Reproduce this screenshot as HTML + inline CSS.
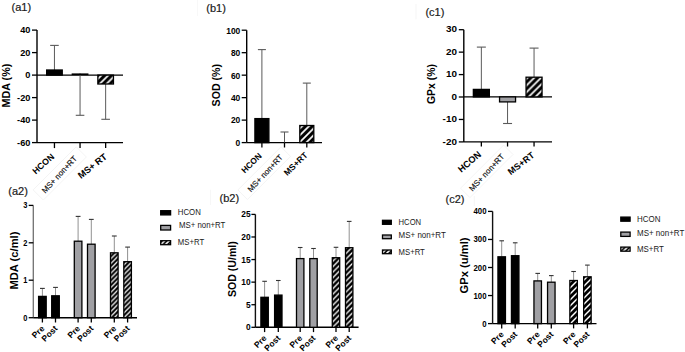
<!DOCTYPE html>
<html><head><meta charset="utf-8"><style>
html,body{margin:0;padding:0;background:#fff;}
body{width:685px;height:352px;overflow:hidden;}
svg{display:block;font-family:"Liberation Sans", sans-serif;}
</style></head><body>
<svg width="685" height="352" viewBox="0 0 685 352">
<defs>
<pattern id="hatch" patternUnits="userSpaceOnUse" x="0" y="0" width="6.8" height="6.8"><rect width="6.8" height="6.8" fill="#000"/><path d="M0,6.8 L6.8,0 M-3.4,3.4 L3.4,-3.4 M3.4,10.2 L10.2,3.4" stroke="#fff" stroke-width="1.7"/></pattern>
<pattern id="hatchBa" patternUnits="userSpaceOnUse" x="0" y="0" width="4.8" height="4.8"><rect width="4.8" height="4.8" fill="#000"/><path d="M0,4.8 L4.8,0 M-2.4,2.4 L2.4,-2.4 M2.4,7.199999999999999 L7.199999999999999,2.4" stroke="#fff" stroke-width="1.25"/></pattern>
<pattern id="hatchBb" patternUnits="userSpaceOnUse" x="0" y="0" width="5.5" height="5.5"><rect width="5.5" height="5.5" fill="#000"/><path d="M0,5.5 L5.5,0 M-2.75,2.75 L2.75,-2.75 M2.75,8.25 L8.25,2.75" stroke="#fff" stroke-width="1.35"/></pattern>
<pattern id="hatchBc" patternUnits="userSpaceOnUse" x="0" y="0" width="6.0" height="6.0"><rect width="6.0" height="6.0" fill="#000"/><path d="M0,6.0 L6.0,0 M-3.0,3.0 L3.0,-3.0 M3.0,9.0 L9.0,3.0" stroke="#fff" stroke-width="1.45"/></pattern>
<pattern id="hatchL" patternUnits="userSpaceOnUse" x="0.6" y="0" width="4.6" height="4.6"><rect width="4.6" height="4.6" fill="#000"/><path d="M0,4.6 L4.6,0 M-2.3,2.3 L2.3,-2.3 M2.3,6.8999999999999995 L6.8999999999999995,2.3" stroke="#fff" stroke-width="1.5"/></pattern>

</defs>
<rect width="685" height="352" fill="#fff"/>
<line x1="37.00" y1="30.10" x2="37.00" y2="142.60" stroke="#000" stroke-width="1.4"/>
<line x1="32.00" y1="30.10" x2="37.00" y2="30.10" stroke="#000" stroke-width="1.3"/>
<text x="30.40" y="33.26" font-size="9.9" font-weight="bold" text-anchor="end" transform="matrix(0.93 0 0 1 2.128 0)">40</text>
<line x1="32.00" y1="52.60" x2="37.00" y2="52.60" stroke="#000" stroke-width="1.3"/>
<text x="30.40" y="55.76" font-size="9.9" font-weight="bold" text-anchor="end" transform="matrix(0.93 0 0 1 2.128 0)">20</text>
<line x1="32.00" y1="75.10" x2="37.00" y2="75.10" stroke="#000" stroke-width="1.3"/>
<text x="30.40" y="78.26" font-size="9.9" font-weight="bold" text-anchor="end" transform="matrix(0.93 0 0 1 2.128 0)">0</text>
<line x1="32.00" y1="97.60" x2="37.00" y2="97.60" stroke="#000" stroke-width="1.3"/>
<text x="30.40" y="100.76" font-size="9.9" font-weight="bold" text-anchor="end" transform="matrix(0.93 0 0 1 2.128 0)">-20</text>
<line x1="32.00" y1="120.10" x2="37.00" y2="120.10" stroke="#000" stroke-width="1.3"/>
<text x="30.40" y="123.26" font-size="9.9" font-weight="bold" text-anchor="end" transform="matrix(0.93 0 0 1 2.128 0)">-40</text>
<line x1="32.00" y1="142.60" x2="37.00" y2="142.60" stroke="#000" stroke-width="1.3"/>
<text x="30.40" y="145.76" font-size="9.9" font-weight="bold" text-anchor="end" transform="matrix(0.93 0 0 1 2.128 0)">-60</text>
<line x1="37.00" y1="142.60" x2="123.00" y2="142.60" stroke="#000" stroke-width="1.4"/>
<line x1="37.00" y1="75.10" x2="123.00" y2="75.10" stroke="#000" stroke-width="1.3"/>
<line x1="54.45" y1="70.00" x2="54.45" y2="45.40" stroke="#5a5a5a" stroke-width="1.0"/>
<line x1="50.15" y1="45.40" x2="58.75" y2="45.40" stroke="#5a5a5a" stroke-width="1.1"/>
<rect x="46.65" y="70.00" width="15.60" height="5.10" fill="#000" stroke="#000" stroke-width="1.3"/>
<line x1="80.05" y1="73.40" x2="80.05" y2="115.30" stroke="#5a5a5a" stroke-width="1.0"/>
<line x1="75.75" y1="115.30" x2="84.35" y2="115.30" stroke="#5a5a5a" stroke-width="1.1"/>
<rect x="71.65" y="73.40" width="16.80" height="1.70" fill="#000"/>
<line x1="105.65" y1="84.00" x2="105.65" y2="119.30" stroke="#5a5a5a" stroke-width="1.0"/>
<line x1="101.35" y1="119.30" x2="109.95" y2="119.30" stroke="#5a5a5a" stroke-width="1.1"/>
<rect x="97.85" y="75.10" width="15.60" height="8.90" fill="url(#hatch)" stroke="#000" stroke-width="1.3"/>
<line x1="54.45" y1="142.60" x2="54.45" y2="148.10" stroke="#000" stroke-width="1.3"/>
<line x1="80.05" y1="142.60" x2="80.05" y2="148.10" stroke="#000" stroke-width="1.3"/>
<line x1="105.65" y1="142.60" x2="105.65" y2="148.10" stroke="#000" stroke-width="1.3"/>
<line x1="246.70" y1="30.20" x2="246.70" y2="142.60" stroke="#000" stroke-width="1.4"/>
<line x1="241.70" y1="30.20" x2="246.70" y2="30.20" stroke="#000" stroke-width="1.3"/>
<text x="240.30" y="33.56" font-size="9.6" font-weight="bold" text-anchor="end" transform="matrix(0.88 0 0 1 28.836 0)">100</text>
<line x1="241.70" y1="52.68" x2="246.70" y2="52.68" stroke="#000" stroke-width="1.3"/>
<text x="240.30" y="56.04" font-size="9.6" font-weight="bold" text-anchor="end" transform="matrix(0.88 0 0 1 28.836 0)">80</text>
<line x1="241.70" y1="75.16" x2="246.70" y2="75.16" stroke="#000" stroke-width="1.3"/>
<text x="240.30" y="78.52" font-size="9.6" font-weight="bold" text-anchor="end" transform="matrix(0.88 0 0 1 28.836 0)">60</text>
<line x1="241.70" y1="97.64" x2="246.70" y2="97.64" stroke="#000" stroke-width="1.3"/>
<text x="240.30" y="101.00" font-size="9.6" font-weight="bold" text-anchor="end" transform="matrix(0.88 0 0 1 28.836 0)">40</text>
<line x1="241.70" y1="120.12" x2="246.70" y2="120.12" stroke="#000" stroke-width="1.3"/>
<text x="240.30" y="123.48" font-size="9.6" font-weight="bold" text-anchor="end" transform="matrix(0.88 0 0 1 28.836 0)">20</text>
<line x1="241.70" y1="142.60" x2="246.70" y2="142.60" stroke="#000" stroke-width="1.3"/>
<text x="240.30" y="145.96" font-size="9.6" font-weight="bold" text-anchor="end" transform="matrix(0.88 0 0 1 28.836 0)">0</text>
<line x1="246.70" y1="142.60" x2="322.00" y2="142.60" stroke="#000" stroke-width="1.4"/>
<line x1="261.90" y1="118.60" x2="261.90" y2="49.60" stroke="#5a5a5a" stroke-width="1.0"/>
<line x1="257.90" y1="49.60" x2="265.90" y2="49.60" stroke="#5a5a5a" stroke-width="1.1"/>
<rect x="254.90" y="118.60" width="14.00" height="24.00" fill="#000" stroke="#000" stroke-width="1.3"/>
<line x1="284.50" y1="142.60" x2="284.50" y2="132.00" stroke="#5a5a5a" stroke-width="1.0"/>
<line x1="280.50" y1="132.00" x2="288.50" y2="132.00" stroke="#5a5a5a" stroke-width="1.1"/>
<line x1="306.80" y1="125.50" x2="306.80" y2="83.10" stroke="#5a5a5a" stroke-width="1.0"/>
<line x1="302.80" y1="83.10" x2="310.80" y2="83.10" stroke="#5a5a5a" stroke-width="1.1"/>
<rect x="299.80" y="125.50" width="14.00" height="17.10" fill="url(#hatch)" stroke="#000" stroke-width="1.3"/>
<line x1="261.90" y1="142.60" x2="261.90" y2="147.50" stroke="#000" stroke-width="1.3"/>
<line x1="284.50" y1="142.60" x2="284.50" y2="147.50" stroke="#000" stroke-width="1.3"/>
<line x1="306.80" y1="142.60" x2="306.80" y2="147.50" stroke="#000" stroke-width="1.3"/>
<line x1="463.80" y1="29.70" x2="463.80" y2="141.90" stroke="#000" stroke-width="1.4"/>
<line x1="458.80" y1="29.70" x2="463.80" y2="29.70" stroke="#000" stroke-width="1.3"/>
<text x="456.90" y="32.36" font-size="9.9" font-weight="bold" text-anchor="end" transform="matrix(1.0 0 0 1 0.000 0)">30</text>
<line x1="458.80" y1="52.14" x2="463.80" y2="52.14" stroke="#000" stroke-width="1.3"/>
<text x="456.90" y="54.80" font-size="9.9" font-weight="bold" text-anchor="end" transform="matrix(1.0 0 0 1 0.000 0)">20</text>
<line x1="458.80" y1="74.58" x2="463.80" y2="74.58" stroke="#000" stroke-width="1.3"/>
<text x="456.90" y="77.24" font-size="9.9" font-weight="bold" text-anchor="end" transform="matrix(1.0 0 0 1 0.000 0)">10</text>
<line x1="458.80" y1="97.00" x2="463.80" y2="97.00" stroke="#000" stroke-width="1.3"/>
<text x="456.90" y="99.66" font-size="9.9" font-weight="bold" text-anchor="end" transform="matrix(1.0 0 0 1 0.000 0)">0</text>
<line x1="458.80" y1="119.46" x2="463.80" y2="119.46" stroke="#000" stroke-width="1.3"/>
<text x="456.90" y="122.12" font-size="9.9" font-weight="bold" text-anchor="end" transform="matrix(1.0 0 0 1 0.000 0)">-10</text>
<line x1="458.80" y1="141.90" x2="463.80" y2="141.90" stroke="#000" stroke-width="1.3"/>
<text x="456.90" y="144.56" font-size="9.9" font-weight="bold" text-anchor="end" transform="matrix(1.0 0 0 1 0.000 0)">-20</text>
<line x1="463.80" y1="141.90" x2="552.00" y2="141.90" stroke="#000" stroke-width="1.4"/>
<line x1="463.80" y1="96.90" x2="552.00" y2="96.90" stroke="#000" stroke-width="1.3"/>
<line x1="481.35" y1="89.40" x2="481.35" y2="47.10" stroke="#5a5a5a" stroke-width="1.0"/>
<line x1="476.85" y1="47.10" x2="485.85" y2="47.10" stroke="#5a5a5a" stroke-width="1.1"/>
<rect x="473.35" y="89.40" width="16.00" height="7.50" fill="#000" stroke="#000" stroke-width="1.3"/>
<line x1="507.55" y1="101.90" x2="507.55" y2="123.50" stroke="#5a5a5a" stroke-width="1.0"/>
<line x1="503.05" y1="123.50" x2="512.05" y2="123.50" stroke="#5a5a5a" stroke-width="1.1"/>
<rect x="499.55" y="96.90" width="16.00" height="5.00" fill="#a0a0a4" stroke="#000" stroke-width="1.3"/>
<line x1="534.05" y1="77.20" x2="534.05" y2="48.10" stroke="#5a5a5a" stroke-width="1.0"/>
<line x1="529.55" y1="48.10" x2="538.55" y2="48.10" stroke="#5a5a5a" stroke-width="1.1"/>
<rect x="526.05" y="77.20" width="16.00" height="19.70" fill="url(#hatch)" stroke="#000" stroke-width="1.3"/>
<line x1="481.35" y1="141.90" x2="481.35" y2="146.50" stroke="#000" stroke-width="1.3"/>
<line x1="507.55" y1="141.90" x2="507.55" y2="146.50" stroke="#000" stroke-width="1.3"/>
<line x1="534.05" y1="141.90" x2="534.05" y2="146.50" stroke="#000" stroke-width="1.3"/>
<polygon points="76.2,146.8 86.4,157.0 43.3,200.1 33.1,189.9" fill="none" stroke="#f1f1f1" stroke-width="0.8"/>
<polygon points="281.0,146.8 290.5,156.4 247.4,199.5 237.9,189.9" fill="none" stroke="#f1f1f1" stroke-width="0.8"/>
<polygon points="503.6,145.1 513.0,154.5 469.9,197.6 460.5,188.2" fill="none" stroke="#f1f1f1" stroke-width="0.8"/>
<line x1="416.00" y1="4.00" x2="416.00" y2="19.30" stroke="#f3f3f3" stroke-width="0.8"/>
<line x1="197.50" y1="0.00" x2="197.50" y2="16.00" stroke="#f6f6f6" stroke-width="0.8"/>
<line x1="474.30" y1="196.00" x2="474.30" y2="206.00" stroke="#f3f3f3" stroke-width="0.8"/>
<line x1="210.50" y1="189.80" x2="210.50" y2="205.00" stroke="#f5f5f5" stroke-width="0.8"/>
<text x="54.90" y="157.50" font-size="8.8" font-weight="bold" text-anchor="end" fill="#000" transform="rotate(-42 54.90 157.50)">HCON</text>
<text x="107.70" y="158.00" font-size="9.2" font-weight="bold" text-anchor="end" fill="#000" transform="rotate(-38 107.70 158.00)">MS+ RT</text>
<text x="77.50" y="159.00" font-size="8.0" font-weight="normal" text-anchor="end" fill="#111" transform="rotate(-47 77.50 159.00)" stroke="#111" stroke-width="0.15">MS+ non+RT</text>
<text x="262.40" y="156.50" font-size="8.4" font-weight="bold" text-anchor="end" fill="#000" transform="rotate(-44 262.40 156.50)">HCON</text>
<text x="308.30" y="155.80" font-size="8.6" font-weight="bold" text-anchor="end" fill="#000" transform="rotate(-44 308.30 155.80)">MS+RT</text>
<text x="283.40" y="157.70" font-size="8.0" font-weight="normal" text-anchor="end" fill="#111" transform="rotate(-47 283.40 157.70)" stroke="#111" stroke-width="0.15">MS+ non+RT</text>
<text x="481.90" y="155.50" font-size="9.2" font-weight="bold" text-anchor="end" fill="#000" transform="rotate(-40 481.90 155.50)">HCON</text>
<text x="535.10" y="156.30" font-size="9.0" font-weight="bold" text-anchor="end" fill="#000" transform="rotate(-38 535.10 156.30)">MS+RT</text>
<text x="504.80" y="157.00" font-size="8.0" font-weight="normal" text-anchor="end" fill="#111" transform="rotate(-47 504.80 157.00)" stroke="#111" stroke-width="0.15">MS+ non+RT</text>
<text x="9.90" y="85.60" font-size="10.8" font-weight="bold" text-anchor="middle" fill="#000" transform="rotate(-90 9.90 85.60)">MDA (%)</text>
<text x="219.80" y="85.20" font-size="10.6" font-weight="bold" text-anchor="middle" fill="#000" transform="rotate(-90 219.80 85.20)">SOD (%)</text>
<text x="435.20" y="84.05" font-size="10.4" font-weight="bold" text-anchor="middle" fill="#000" transform="rotate(-90 435.20 84.05)">GPx (%)</text>
<text x="11.50" y="11.40" font-size="11" font-weight="normal" text-anchor="start" fill="#1a1a1a" stroke="#1a1a1a" stroke-width="0.2">(a1)</text>
<text x="206.30" y="12.20" font-size="11" font-weight="normal" text-anchor="start" fill="#1a1a1a" stroke="#1a1a1a" stroke-width="0.2">(b1)</text>
<text x="425.40" y="15.60" font-size="11" font-weight="normal" text-anchor="start" fill="#1a1a1a" stroke="#1a1a1a" stroke-width="0.2">(c1)</text>
<text x="8.30" y="194.60" font-size="11" font-weight="normal" text-anchor="start" fill="#1a1a1a" stroke="#1a1a1a" stroke-width="0.2">(a2)</text>
<text x="219.50" y="202.40" font-size="11" font-weight="normal" text-anchor="start" fill="#1a1a1a" stroke="#1a1a1a" stroke-width="0.2">(b2)</text>
<text x="445.50" y="203.40" font-size="11" font-weight="normal" text-anchor="start" fill="#1a1a1a" stroke="#1a1a1a" stroke-width="0.2">(c2)</text>
<line x1="33.30" y1="205.40" x2="33.30" y2="317.70" stroke="#707070" stroke-width="1.3"/>
<line x1="28.70" y1="205.40" x2="33.30" y2="205.40" stroke="#000" stroke-width="1.3"/>
<text x="27.50" y="208.45" font-size="9.3" font-weight="bold" text-anchor="end" transform="matrix(0.8 0 0 1 5.500 0)">3</text>
<line x1="28.70" y1="242.80" x2="33.30" y2="242.80" stroke="#000" stroke-width="1.3"/>
<text x="27.50" y="245.85" font-size="9.3" font-weight="bold" text-anchor="end" transform="matrix(0.8 0 0 1 5.500 0)">2</text>
<line x1="28.70" y1="280.20" x2="33.30" y2="280.20" stroke="#000" stroke-width="1.3"/>
<text x="27.50" y="283.25" font-size="9.3" font-weight="bold" text-anchor="end" transform="matrix(0.8 0 0 1 5.500 0)">1</text>
<line x1="28.70" y1="317.70" x2="33.30" y2="317.70" stroke="#000" stroke-width="1.3"/>
<text x="27.50" y="320.75" font-size="9.3" font-weight="bold" text-anchor="end" transform="matrix(0.8 0 0 1 5.500 0)">0</text>
<line x1="33.30" y1="317.70" x2="137.00" y2="317.70" stroke="#000" stroke-width="1.4"/>
<line x1="42.40" y1="296.40" x2="42.40" y2="288.40" stroke="#858585" stroke-width="0.9"/>
<line x1="40.00" y1="288.40" x2="44.80" y2="288.40" stroke="#333" stroke-width="1.1"/>
<rect x="38.60" y="296.40" width="7.60" height="21.30" fill="#000" stroke="#000" stroke-width="1.3"/>
<line x1="55.50" y1="295.80" x2="55.50" y2="287.40" stroke="#858585" stroke-width="0.9"/>
<line x1="53.10" y1="287.40" x2="57.90" y2="287.40" stroke="#333" stroke-width="1.1"/>
<rect x="51.70" y="295.80" width="7.60" height="21.90" fill="#000" stroke="#000" stroke-width="1.3"/>
<line x1="78.10" y1="241.20" x2="78.10" y2="216.40" stroke="#858585" stroke-width="0.9"/>
<line x1="75.70" y1="216.40" x2="80.50" y2="216.40" stroke="#333" stroke-width="1.1"/>
<rect x="74.30" y="241.20" width="7.60" height="76.50" fill="#a0a0a4" stroke="#000" stroke-width="1.3"/>
<line x1="91.30" y1="244.20" x2="91.30" y2="219.40" stroke="#858585" stroke-width="0.9"/>
<line x1="88.90" y1="219.40" x2="93.70" y2="219.40" stroke="#333" stroke-width="1.1"/>
<rect x="87.50" y="244.20" width="7.60" height="73.50" fill="#a0a0a4" stroke="#000" stroke-width="1.3"/>
<line x1="114.30" y1="252.80" x2="114.30" y2="236.00" stroke="#858585" stroke-width="0.9"/>
<line x1="111.90" y1="236.00" x2="116.70" y2="236.00" stroke="#333" stroke-width="1.1"/>
<rect x="110.50" y="252.80" width="7.60" height="64.90" fill="url(#hatchBa)" stroke="#000" stroke-width="1.3"/>
<line x1="127.60" y1="261.70" x2="127.60" y2="247.10" stroke="#858585" stroke-width="0.9"/>
<line x1="125.20" y1="247.10" x2="130.00" y2="247.10" stroke="#333" stroke-width="1.1"/>
<rect x="123.80" y="261.70" width="7.60" height="56.00" fill="url(#hatchBa)" stroke="#000" stroke-width="1.3"/>
<line x1="42.40" y1="317.70" x2="42.40" y2="322.50" stroke="#000" stroke-width="1.3"/>
<line x1="55.50" y1="317.70" x2="55.50" y2="322.50" stroke="#000" stroke-width="1.3"/>
<line x1="78.10" y1="317.70" x2="78.10" y2="322.50" stroke="#000" stroke-width="1.3"/>
<line x1="91.30" y1="317.70" x2="91.30" y2="322.50" stroke="#000" stroke-width="1.3"/>
<line x1="114.30" y1="317.70" x2="114.30" y2="322.50" stroke="#000" stroke-width="1.3"/>
<line x1="127.60" y1="317.70" x2="127.60" y2="322.50" stroke="#000" stroke-width="1.3"/>
<text x="45.00" y="329.10" font-size="8.5" font-weight="bold" text-anchor="end" fill="#000" transform="rotate(-45 45.00 329.10)">Pre</text>
<text x="58.10" y="329.10" font-size="8.5" font-weight="bold" text-anchor="end" fill="#000" transform="rotate(-45 58.10 329.10)">Post</text>
<text x="80.70" y="329.10" font-size="8.5" font-weight="bold" text-anchor="end" fill="#000" transform="rotate(-45 80.70 329.10)">Pre</text>
<text x="93.90" y="329.10" font-size="8.5" font-weight="bold" text-anchor="end" fill="#000" transform="rotate(-45 93.90 329.10)">Post</text>
<text x="116.90" y="329.10" font-size="8.5" font-weight="bold" text-anchor="end" fill="#000" transform="rotate(-45 116.90 329.10)">Pre</text>
<text x="130.20" y="329.10" font-size="8.5" font-weight="bold" text-anchor="end" fill="#000" transform="rotate(-45 130.20 329.10)">Post</text>
<line x1="255.40" y1="214.40" x2="255.40" y2="327.30" stroke="#111" stroke-width="1.4"/>
<line x1="251.40" y1="214.40" x2="255.40" y2="214.40" stroke="#000" stroke-width="1.3"/>
<text x="250.60" y="217.45" font-size="9.3" font-weight="bold" text-anchor="end" transform="matrix(0.9 0 0 1 25.060 0)">25</text>
<line x1="251.40" y1="236.98" x2="255.40" y2="236.98" stroke="#000" stroke-width="1.3"/>
<text x="250.60" y="240.03" font-size="9.3" font-weight="bold" text-anchor="end" transform="matrix(0.9 0 0 1 25.060 0)">20</text>
<line x1="251.40" y1="259.56" x2="255.40" y2="259.56" stroke="#000" stroke-width="1.3"/>
<text x="250.60" y="262.61" font-size="9.3" font-weight="bold" text-anchor="end" transform="matrix(0.9 0 0 1 25.060 0)">15</text>
<line x1="251.40" y1="282.14" x2="255.40" y2="282.14" stroke="#000" stroke-width="1.3"/>
<text x="250.60" y="285.19" font-size="9.3" font-weight="bold" text-anchor="end" transform="matrix(0.9 0 0 1 25.060 0)">10</text>
<line x1="251.40" y1="304.72" x2="255.40" y2="304.72" stroke="#000" stroke-width="1.3"/>
<text x="250.60" y="307.77" font-size="9.3" font-weight="bold" text-anchor="end" transform="matrix(0.9 0 0 1 25.060 0)">5</text>
<line x1="251.40" y1="327.30" x2="255.40" y2="327.30" stroke="#000" stroke-width="1.3"/>
<text x="250.60" y="330.35" font-size="9.3" font-weight="bold" text-anchor="end" transform="matrix(0.9 0 0 1 25.060 0)">0</text>
<line x1="255.40" y1="327.30" x2="358.60" y2="327.30" stroke="#000" stroke-width="1.4"/>
<line x1="264.60" y1="297.30" x2="264.60" y2="281.30" stroke="#858585" stroke-width="0.9"/>
<line x1="262.30" y1="281.30" x2="266.90" y2="281.30" stroke="#333" stroke-width="1.1"/>
<rect x="260.90" y="297.30" width="7.40" height="30.00" fill="#000" stroke="#000" stroke-width="1.3"/>
<line x1="278.30" y1="295.10" x2="278.30" y2="280.50" stroke="#858585" stroke-width="0.9"/>
<line x1="276.00" y1="280.50" x2="280.60" y2="280.50" stroke="#333" stroke-width="1.1"/>
<rect x="274.60" y="295.10" width="7.40" height="32.20" fill="#000" stroke="#000" stroke-width="1.3"/>
<line x1="300.20" y1="258.60" x2="300.20" y2="247.50" stroke="#858585" stroke-width="0.9"/>
<line x1="297.90" y1="247.50" x2="302.50" y2="247.50" stroke="#333" stroke-width="1.1"/>
<rect x="296.50" y="258.60" width="7.40" height="68.70" fill="#a0a0a4" stroke="#000" stroke-width="1.3"/>
<line x1="313.50" y1="258.60" x2="313.50" y2="248.50" stroke="#858585" stroke-width="0.9"/>
<line x1="311.20" y1="248.50" x2="315.80" y2="248.50" stroke="#333" stroke-width="1.1"/>
<rect x="309.80" y="258.60" width="7.40" height="68.70" fill="#a0a0a4" stroke="#000" stroke-width="1.3"/>
<line x1="336.00" y1="257.70" x2="336.00" y2="247.30" stroke="#858585" stroke-width="0.9"/>
<line x1="333.70" y1="247.30" x2="338.30" y2="247.30" stroke="#333" stroke-width="1.1"/>
<rect x="332.30" y="257.70" width="7.40" height="69.60" fill="url(#hatchBb)" stroke="#000" stroke-width="1.3"/>
<line x1="349.20" y1="247.70" x2="349.20" y2="221.40" stroke="#858585" stroke-width="0.9"/>
<line x1="346.90" y1="221.40" x2="351.50" y2="221.40" stroke="#333" stroke-width="1.1"/>
<rect x="345.50" y="247.70" width="7.40" height="79.60" fill="url(#hatchBb)" stroke="#000" stroke-width="1.3"/>
<line x1="264.60" y1="327.30" x2="264.60" y2="332.10" stroke="#000" stroke-width="1.3"/>
<line x1="278.30" y1="327.30" x2="278.30" y2="332.10" stroke="#000" stroke-width="1.3"/>
<line x1="300.20" y1="327.30" x2="300.20" y2="332.10" stroke="#000" stroke-width="1.3"/>
<line x1="313.50" y1="327.30" x2="313.50" y2="332.10" stroke="#000" stroke-width="1.3"/>
<line x1="336.00" y1="327.30" x2="336.00" y2="332.10" stroke="#000" stroke-width="1.3"/>
<line x1="349.20" y1="327.30" x2="349.20" y2="332.10" stroke="#000" stroke-width="1.3"/>
<text x="267.20" y="338.70" font-size="8.5" font-weight="bold" text-anchor="end" fill="#000" transform="rotate(-45 267.20 338.70)">Pre</text>
<text x="280.90" y="338.70" font-size="8.5" font-weight="bold" text-anchor="end" fill="#000" transform="rotate(-45 280.90 338.70)">Post</text>
<text x="302.80" y="338.70" font-size="8.5" font-weight="bold" text-anchor="end" fill="#000" transform="rotate(-45 302.80 338.70)">Pre</text>
<text x="316.10" y="338.70" font-size="8.5" font-weight="bold" text-anchor="end" fill="#000" transform="rotate(-45 316.10 338.70)">Post</text>
<text x="338.60" y="338.70" font-size="8.5" font-weight="bold" text-anchor="end" fill="#000" transform="rotate(-45 338.60 338.70)">Pre</text>
<text x="351.80" y="338.70" font-size="8.5" font-weight="bold" text-anchor="end" fill="#000" transform="rotate(-45 351.80 338.70)">Post</text>
<line x1="492.60" y1="211.40" x2="492.60" y2="323.60" stroke="#111" stroke-width="1.4"/>
<line x1="488.00" y1="211.40" x2="492.60" y2="211.40" stroke="#000" stroke-width="1.3"/>
<text x="486.50" y="214.45" font-size="9.3" font-weight="bold" text-anchor="end" transform="matrix(0.84 0 0 1 77.840 0)">400</text>
<line x1="488.00" y1="239.45" x2="492.60" y2="239.45" stroke="#000" stroke-width="1.3"/>
<text x="486.50" y="242.50" font-size="9.3" font-weight="bold" text-anchor="end" transform="matrix(0.84 0 0 1 77.840 0)">300</text>
<line x1="488.00" y1="267.50" x2="492.60" y2="267.50" stroke="#000" stroke-width="1.3"/>
<text x="486.50" y="270.55" font-size="9.3" font-weight="bold" text-anchor="end" transform="matrix(0.84 0 0 1 77.840 0)">200</text>
<line x1="488.00" y1="295.55" x2="492.60" y2="295.55" stroke="#000" stroke-width="1.3"/>
<text x="486.50" y="298.60" font-size="9.3" font-weight="bold" text-anchor="end" transform="matrix(0.84 0 0 1 77.840 0)">100</text>
<line x1="488.00" y1="323.60" x2="492.60" y2="323.60" stroke="#000" stroke-width="1.3"/>
<text x="486.50" y="326.65" font-size="9.3" font-weight="bold" text-anchor="end" transform="matrix(0.84 0 0 1 77.840 0)">0</text>
<line x1="492.60" y1="323.60" x2="596.50" y2="323.60" stroke="#000" stroke-width="1.4"/>
<line x1="501.70" y1="256.80" x2="501.70" y2="240.80" stroke="#858585" stroke-width="0.9"/>
<line x1="499.40" y1="240.80" x2="504.00" y2="240.80" stroke="#333" stroke-width="1.1"/>
<rect x="497.95" y="256.80" width="7.50" height="66.80" fill="#000" stroke="#000" stroke-width="1.3"/>
<line x1="515.20" y1="255.70" x2="515.20" y2="242.80" stroke="#858585" stroke-width="0.9"/>
<line x1="512.90" y1="242.80" x2="517.50" y2="242.80" stroke="#333" stroke-width="1.1"/>
<rect x="511.45" y="255.70" width="7.50" height="67.90" fill="#000" stroke="#000" stroke-width="1.3"/>
<line x1="537.70" y1="280.90" x2="537.70" y2="273.40" stroke="#858585" stroke-width="0.9"/>
<line x1="535.40" y1="273.40" x2="540.00" y2="273.40" stroke="#333" stroke-width="1.1"/>
<rect x="533.95" y="280.90" width="7.50" height="42.70" fill="#a0a0a4" stroke="#000" stroke-width="1.3"/>
<line x1="551.30" y1="282.20" x2="551.30" y2="275.60" stroke="#858585" stroke-width="0.9"/>
<line x1="549.00" y1="275.60" x2="553.60" y2="275.60" stroke="#333" stroke-width="1.1"/>
<rect x="547.55" y="282.20" width="7.50" height="41.40" fill="#a0a0a4" stroke="#000" stroke-width="1.3"/>
<line x1="573.60" y1="280.50" x2="573.60" y2="271.50" stroke="#858585" stroke-width="0.9"/>
<line x1="571.30" y1="271.50" x2="575.90" y2="271.50" stroke="#333" stroke-width="1.1"/>
<rect x="569.85" y="280.50" width="7.50" height="43.10" fill="url(#hatchBc)" stroke="#000" stroke-width="1.3"/>
<line x1="587.40" y1="276.80" x2="587.40" y2="265.10" stroke="#858585" stroke-width="0.9"/>
<line x1="585.10" y1="265.10" x2="589.70" y2="265.10" stroke="#333" stroke-width="1.1"/>
<rect x="583.65" y="276.80" width="7.50" height="46.80" fill="url(#hatchBc)" stroke="#000" stroke-width="1.3"/>
<line x1="501.70" y1="323.60" x2="501.70" y2="328.40" stroke="#000" stroke-width="1.3"/>
<line x1="515.20" y1="323.60" x2="515.20" y2="328.40" stroke="#000" stroke-width="1.3"/>
<line x1="537.70" y1="323.60" x2="537.70" y2="328.40" stroke="#000" stroke-width="1.3"/>
<line x1="551.30" y1="323.60" x2="551.30" y2="328.40" stroke="#000" stroke-width="1.3"/>
<line x1="573.60" y1="323.60" x2="573.60" y2="328.40" stroke="#000" stroke-width="1.3"/>
<line x1="587.40" y1="323.60" x2="587.40" y2="328.40" stroke="#000" stroke-width="1.3"/>
<text x="504.30" y="335.00" font-size="8.5" font-weight="bold" text-anchor="end" fill="#000" transform="rotate(-45 504.30 335.00)">Pre</text>
<text x="517.80" y="335.00" font-size="8.5" font-weight="bold" text-anchor="end" fill="#000" transform="rotate(-45 517.80 335.00)">Post</text>
<text x="540.30" y="335.00" font-size="8.5" font-weight="bold" text-anchor="end" fill="#000" transform="rotate(-45 540.30 335.00)">Pre</text>
<text x="553.90" y="335.00" font-size="8.5" font-weight="bold" text-anchor="end" fill="#000" transform="rotate(-45 553.90 335.00)">Post</text>
<text x="576.20" y="335.00" font-size="8.5" font-weight="bold" text-anchor="end" fill="#000" transform="rotate(-45 576.20 335.00)">Pre</text>
<text x="590.00" y="335.00" font-size="8.5" font-weight="bold" text-anchor="end" fill="#000" transform="rotate(-45 590.00 335.00)">Post</text>
<text x="17.70" y="260.60" font-size="11.2" font-weight="bold" text-anchor="middle" fill="#000" transform="rotate(-90 17.70 260.60)">MDA (c/ml)</text>
<text x="236.25" y="269.10" font-size="10.6" font-weight="bold" text-anchor="middle" fill="#000" transform="rotate(-90 236.25 269.10)">SOD (U/ml)</text>
<text x="468.45" y="265.40" font-size="11.2" font-weight="bold" text-anchor="middle" fill="#000" transform="rotate(-90 468.45 265.40)">GPx (u/ml)</text>
<rect x="160.70" y="210.70" width="9.90" height="4.20" fill="#000" stroke="#000" stroke-width="1.3"/>
<text x="177.80" y="215.30" font-size="8.8" fill="#1a1a1a" textLength="23.0" lengthAdjust="spacingAndGlyphs">HCON</text>
<rect x="160.70" y="225.40" width="9.90" height="4.60" fill="#a0a0a4" stroke="#000" stroke-width="1.3"/>
<text x="179.00" y="227.80" font-size="8.8" fill="#1a1a1a" textLength="46.4" lengthAdjust="spacingAndGlyphs">MS+ non+RT</text>
<rect x="160.70" y="240.70" width="9.90" height="4.00" fill="url(#hatchL)" stroke="#000" stroke-width="1.3"/>
<text x="177.80" y="245.30" font-size="8.8" fill="#1a1a1a" textLength="26.4" lengthAdjust="spacingAndGlyphs">MS+RT</text>
<rect x="382.50" y="220.30" width="8.80" height="4.00" fill="#000" stroke="#000" stroke-width="1.3"/>
<text x="398.60" y="225.20" font-size="8.8" fill="#1a1a1a" textLength="22.5" lengthAdjust="spacingAndGlyphs">HCON</text>
<rect x="382.50" y="235.00" width="8.80" height="3.70" fill="#a0a0a4" stroke="#000" stroke-width="1.3"/>
<text x="398.60" y="237.80" font-size="8.8" fill="#1a1a1a" textLength="47.2" lengthAdjust="spacingAndGlyphs">MS+ non+RT</text>
<rect x="382.50" y="250.00" width="8.80" height="3.70" fill="url(#hatchL)" stroke="#000" stroke-width="1.3"/>
<text x="398.60" y="254.50" font-size="8.8" fill="#1a1a1a" textLength="26.2" lengthAdjust="spacingAndGlyphs">MS+RT</text>
<rect x="620.80" y="217.10" width="9.30" height="4.10" fill="#000" stroke="#000" stroke-width="1.3"/>
<text x="637.00" y="221.80" font-size="8.8" fill="#1a1a1a" textLength="23.4" lengthAdjust="spacingAndGlyphs">HCON</text>
<rect x="620.80" y="232.10" width="9.30" height="4.30" fill="#a0a0a4" stroke="#000" stroke-width="1.3"/>
<text x="637.00" y="235.60" font-size="8.8" fill="#1a1a1a" textLength="47.3" lengthAdjust="spacingAndGlyphs">MS+ non+RT</text>
<rect x="620.80" y="247.10" width="9.30" height="4.10" fill="url(#hatchL)" stroke="#000" stroke-width="1.3"/>
<text x="637.00" y="251.60" font-size="8.8" fill="#1a1a1a" textLength="26.8" lengthAdjust="spacingAndGlyphs">MS+RT</text>
</svg>
</body></html>
